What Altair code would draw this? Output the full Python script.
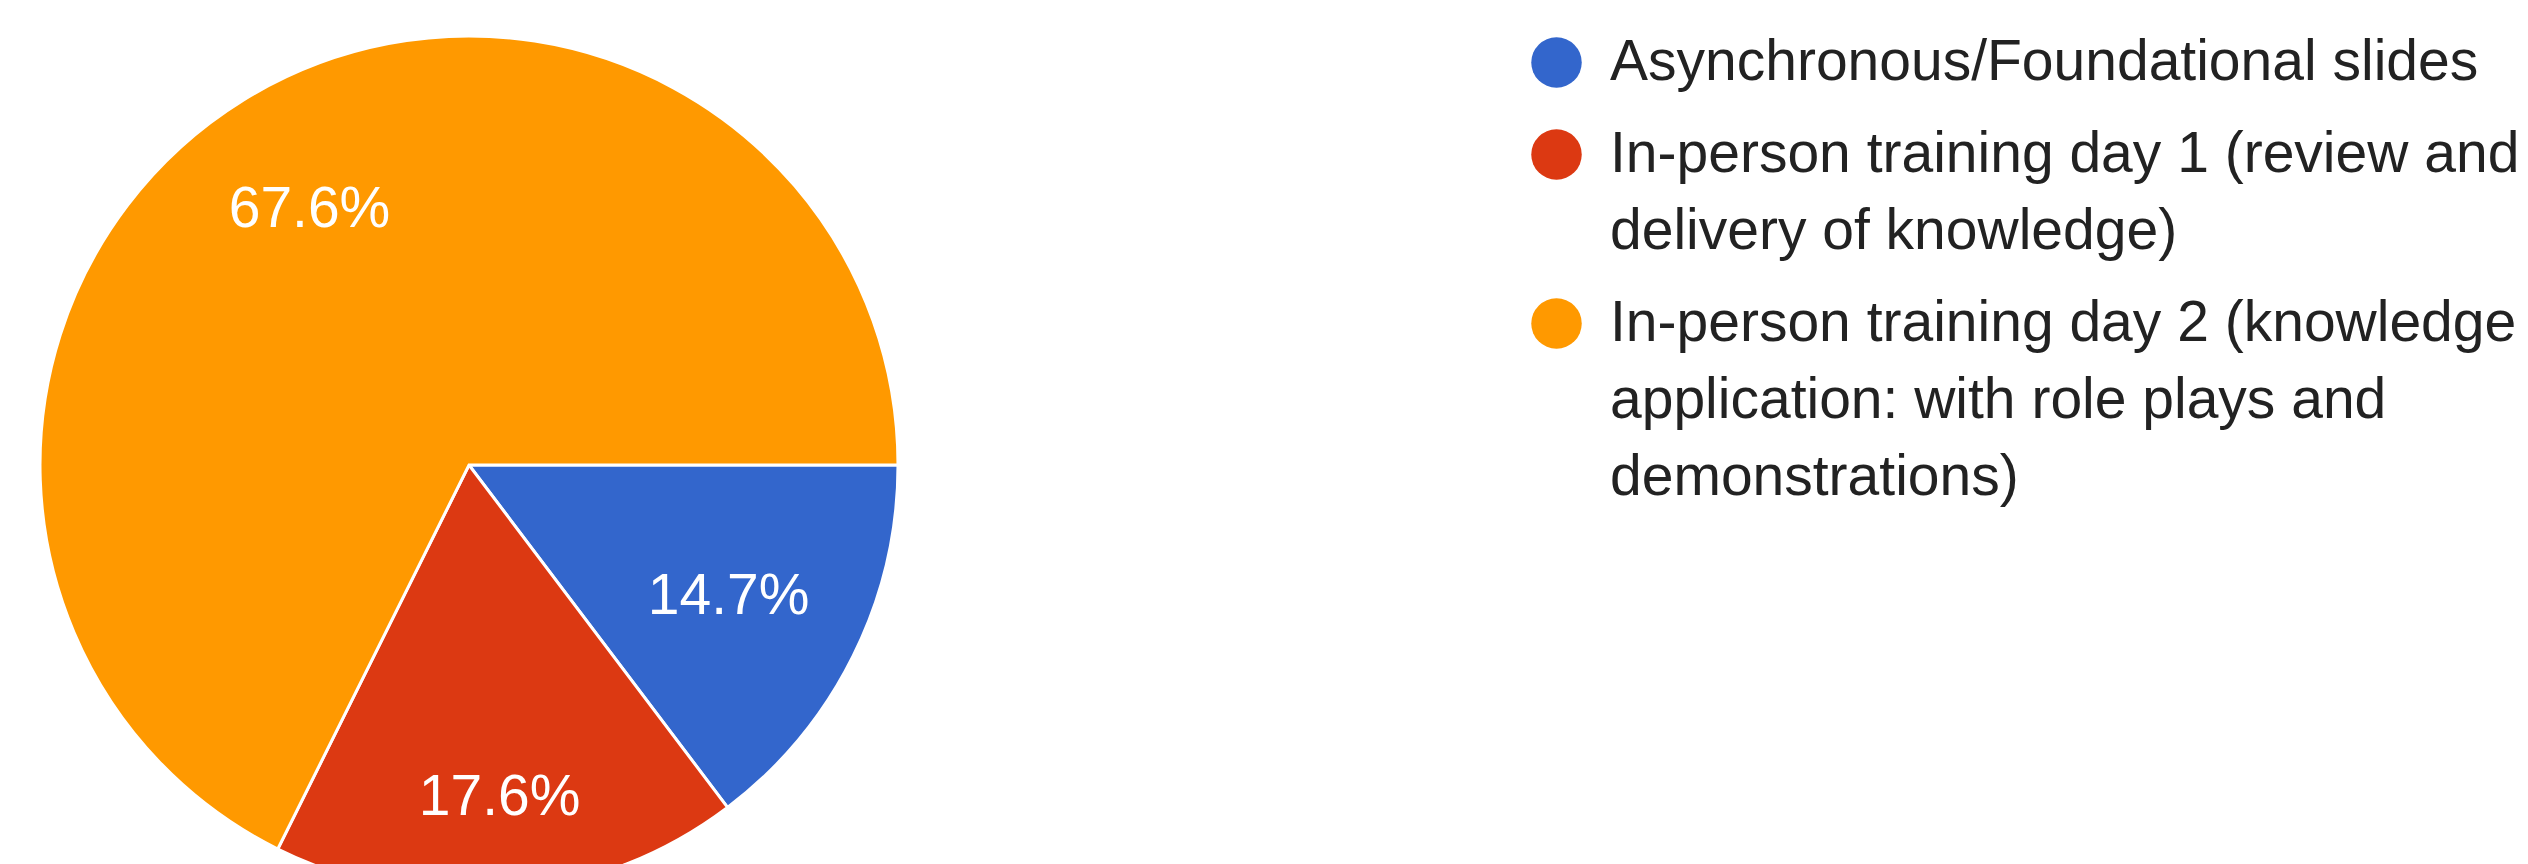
import math
import altair as alt
import pandas as pd

# Data (34 responses)
categories = [
    "Asynchronous/Foundational slides",
    "In-person training day 1 (review and|delivery of knowledge)",
    "In-person training day 2 (knowledge|application: with role plays and|demonstrations)",
]
counts = [5, 6, 23]
percent_labels = ["14.7%", "17.6%", "67.6%"]
colors = ["#3366cc", "#dc3912", "#ff9900"]

df = pd.DataFrame({"category": categories, "count": counts, "label": percent_labels})

FONT = "Liberation Sans"
CX, CY, R = 461, 457, 429

base = alt.Chart(df).transform_window(
    idx="row_number()"
).encode(
    theta=alt.Theta("count:Q", stack=True,
                    scale=alt.Scale(range=[math.pi / 2, math.pi / 2 + 2 * math.pi])),
    order=alt.Order("idx:Q"),
)

pie = base.mark_arc(outerRadius=R, stroke="white", strokeWidth=3, clip=True).encode(
    x=alt.value(CX),
    y=alt.value(CY),
    color=alt.Color(
        "category:N",
        scale=alt.Scale(domain=categories, range=colors),
        legend=alt.Legend(
            title=None,
            orient="none",
            legendX=1520,
            legendY=26,
            symbolType="circle",
            symbolSize=2550,
            symbolStrokeWidth=0,
            symbolOpacity=1,
            labelFont=FONT,
            labelFontSize=57,
            labelColor="#222222",
            labelLimit=4000,
            labelOffset=25,
            rowPadding=34,
            labelBaseline="middle",
            labelExpr="split(datum.label, '|')",
        ),
    ),
)

text = base.mark_text(font=FONT, fontSize=57, color="white", align="center",
                      baseline="middle", dy=3).encode(
    x=alt.value(CX),
    y=alt.value(CY),
    detail="category:N",
    radius=alt.value(alt.ExprRef(expr="datum.idx == 2 ? 331 : (datum.idx == 1 ? 290 : 303)")),
    text="label:N",
)

chart = alt.layer(pie, text).properties(
    width=2512, height=856, autosize="none", padding=0
).configure(
    style={"guide-label": {"lineHeight": 77}},
    view=alt.ViewConfig(stroke=None),
)

chart.save("out.html", embed_options={"renderer": "svg", "actions": False})
